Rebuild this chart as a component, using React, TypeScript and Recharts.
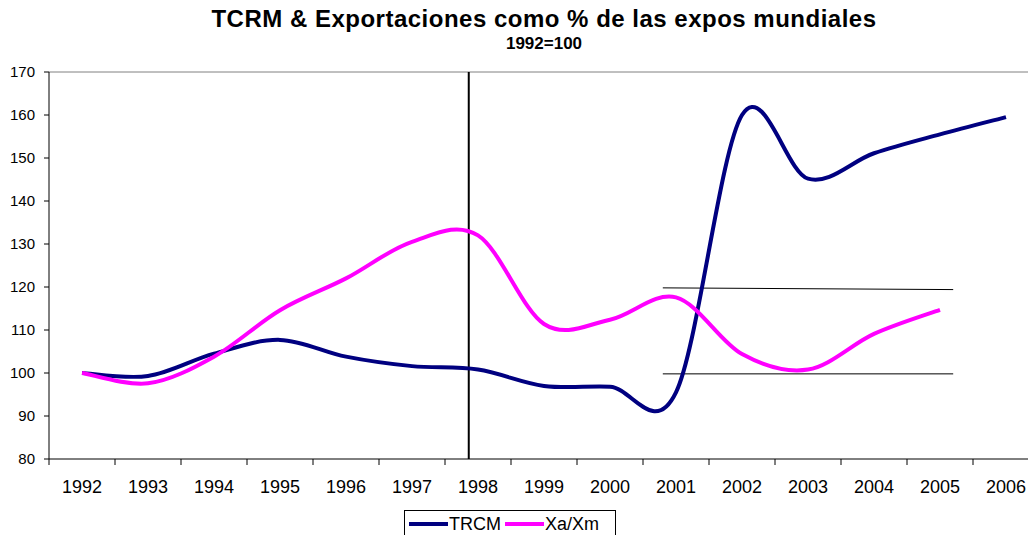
import React from 'react';
import { LineChart, Line, XAxis, YAxis, ReferenceLine } from 'recharts';

const years = ['1992', '1993', '1994', '1995', '1996', '1997', '1998', '1999', '2000', '2001', '2002', '2003', '2004', '2005', '2006'];
const trcm = [100, 99.3, 104.5, 107.7, 103.8, 101.6, 100.8, 97.0, 96.8, 95.5, 160, 145.2, 151.1, 155.5, 159.5];
const xaXm = [100, 97.6, 103.8, 114.6, 122.0, 130.5, 132.0, 111.4, 112.4, 117.6, 104.4, 100.8, 109.1, 114.7, null];
const yTicks = [80, 90, 100, 110, 120, 130, 140, 150, 160, 170];

// drawn annotations (in category index units)
const vLineAt = 5.86;
const upperBand = [{ x: 8.8, y: 119.8 }, { x: 13.2, y: 119.4 }];
const lowerBand = [{ x: 8.8, y: 99.8 }, { x: 13.2, y: 99.8 }];

const NAVY = '#000080';
const PINK = '#FF00FF';
const FONT = '"Liberation Sans", Arial, sans-serif';

const CHART_W = 1050;
const CHART_H = 535;
const PLOT_LEFT = 49;
const PLOT_RIGHT = 1039;
const PLOT_TOP = 72;
const PLOT_BOTTOM = 459;
const X_AXIS_H = 40;
const HALF_CAT = (PLOT_RIGHT - PLOT_LEFT) / years.length / 2;

const data = years.map((year, i) => ({ x: i, year, trcm: trcm[i], xaXm: xaXm[i] }));

// Excel-style smoothed line (Catmull-Rom through every point)
const excelSmooth = (context: any) => {
  let pts: number[][] = [];
  return {
    areaStart() {},
    areaEnd() {},
    lineStart() {
      pts = [];
    },
    point(x: number, y: number) {
      pts.push([+x, +y]);
    },
    lineEnd() {
      if (!pts.length) return;
      context.moveTo(pts[0][0], pts[0][1]);
      for (let i = 0; i < pts.length - 1; i++) {
        const p0 = pts[Math.max(i - 1, 0)];
        const p1 = pts[i];
        const p2 = pts[i + 1];
        const p3 = pts[Math.min(i + 2, pts.length - 1)];
        context.bezierCurveTo(
          p1[0] + (p2[0] - p0[0]) / 6,
          p1[1] + (p2[1] - p0[1]) / 6,
          p2[0] - (p3[0] - p1[0]) / 6,
          p2[1] - (p3[1] - p1[1]) / 6,
          p2[0],
          p2[1]
        );
      }
    },
  };
};

const YearTick = (props: any) => {
  const { x, y, payload, index } = props;
  const last = index === years.length - 1;
  return (
    <g>
      <line x1={x - HALF_CAT} x2={x - HALF_CAT} y1={y} y2={y + 6} stroke="#000" />
      {last && <line x1={x + HALF_CAT} x2={x + HALF_CAT} y1={y} y2={y + 6} stroke="#000" />}
      <text x={x} y={y + 34} textAnchor="middle" fontSize={18} fontFamily={FONT} fill="#000">
        {years[payload.value]}
      </text>
    </g>
  );
};

const legendItems = [
  { name: 'TRCM', color: NAVY },
  { name: 'Xa/Xm', color: PINK },
];

export default function App() {
  return (
    <div
      style={{
        position: 'absolute',
        left: 0,
        top: 0,
        width: 1028,
        height: 535,
        overflow: 'hidden',
        background: '#fff',
        fontFamily: FONT,
      }}
    >
      <div
        style={{
          position: 'absolute',
          left: 0,
          width: 1088,
          top: 5,
          textAlign: 'center',
          fontSize: 24,
          letterSpacing: 0.5,
          fontWeight: 'bold',
          lineHeight: '28px',
        }}
      >
        TCRM &amp; Exportaciones como % de las expos mundiales
      </div>
      <div
        style={{
          position: 'absolute',
          left: 0,
          width: 1088,
          top: 34,
          textAlign: 'center',
          fontSize: 17,
          fontWeight: 'bold',
          lineHeight: '20px',
        }}
      >
        1992=100
      </div>

      <LineChart
        width={CHART_W}
        height={CHART_H}
        data={data}
        margin={{
          top: PLOT_TOP,
          right: CHART_W - PLOT_RIGHT,
          left: 0,
          bottom: CHART_H - PLOT_BOTTOM - X_AXIS_H,
        }}
      >
        <XAxis
          dataKey="x"
          type="number"
          domain={[-0.5, years.length - 0.5]}
          ticks={years.map((_, i) => i)}
          interval={0}
          height={X_AXIS_H}
          tickLine={false}
          tickSize={0}
          tickMargin={0}
          axisLine={{ stroke: '#000', strokeWidth: 1 }}
          tick={<YearTick />}
        />
        <YAxis
          type="number"
          domain={[80, 170]}
          ticks={yTicks}
          interval={0}
          width={PLOT_LEFT}
          tickSize={5}
          tickMargin={9}
          axisLine={{ stroke: '#000', strokeWidth: 1 }}
          tickLine={{ stroke: '#000' }}
          tick={{ fontSize: 15, fill: '#000', fontFamily: FONT }}
        />
        <ReferenceLine y={170} stroke="#808080" strokeWidth={1} />
        <ReferenceLine x={vLineAt} stroke="#000" strokeWidth={2} />
        <ReferenceLine segment={upperBand} stroke="#000" strokeWidth={1} />
        <ReferenceLine segment={lowerBand} stroke="#000" strokeWidth={1} />
        <Line
          dataKey="trcm"
          name="TRCM"
          type={excelSmooth as any}
          stroke={NAVY}
          strokeWidth={4}
          dot={false}
          activeDot={false}
          isAnimationActive={false}
        />
        <Line
          dataKey="xaXm"
          name="Xa/Xm"
          type={excelSmooth as any}
          stroke={PINK}
          strokeWidth={4}
          dot={false}
          activeDot={false}
          isAnimationActive={false}
        />
      </LineChart>

      <div
        style={{
          position: 'absolute',
          left: 404,
          top: 510,
          width: 212,
          height: 30,
          border: '1px solid #000',
          boxSizing: 'border-box',
          display: 'flex',
          alignItems: 'flex-start',
          paddingLeft: 4,
          paddingTop: 2,
          fontSize: 18,
          lineHeight: '22px',
        }}
      >
        {legendItems.map((item) => (
          <div key={item.name} style={{ display: 'flex', alignItems: 'center', marginRight: 4 }}>
            <span style={{ display: 'inline-block', width: 39, height: 4, background: item.color, marginRight: 1 }} />
            <span>{item.name}</span>
          </div>
        ))}
      </div>
    </div>
  );
}
